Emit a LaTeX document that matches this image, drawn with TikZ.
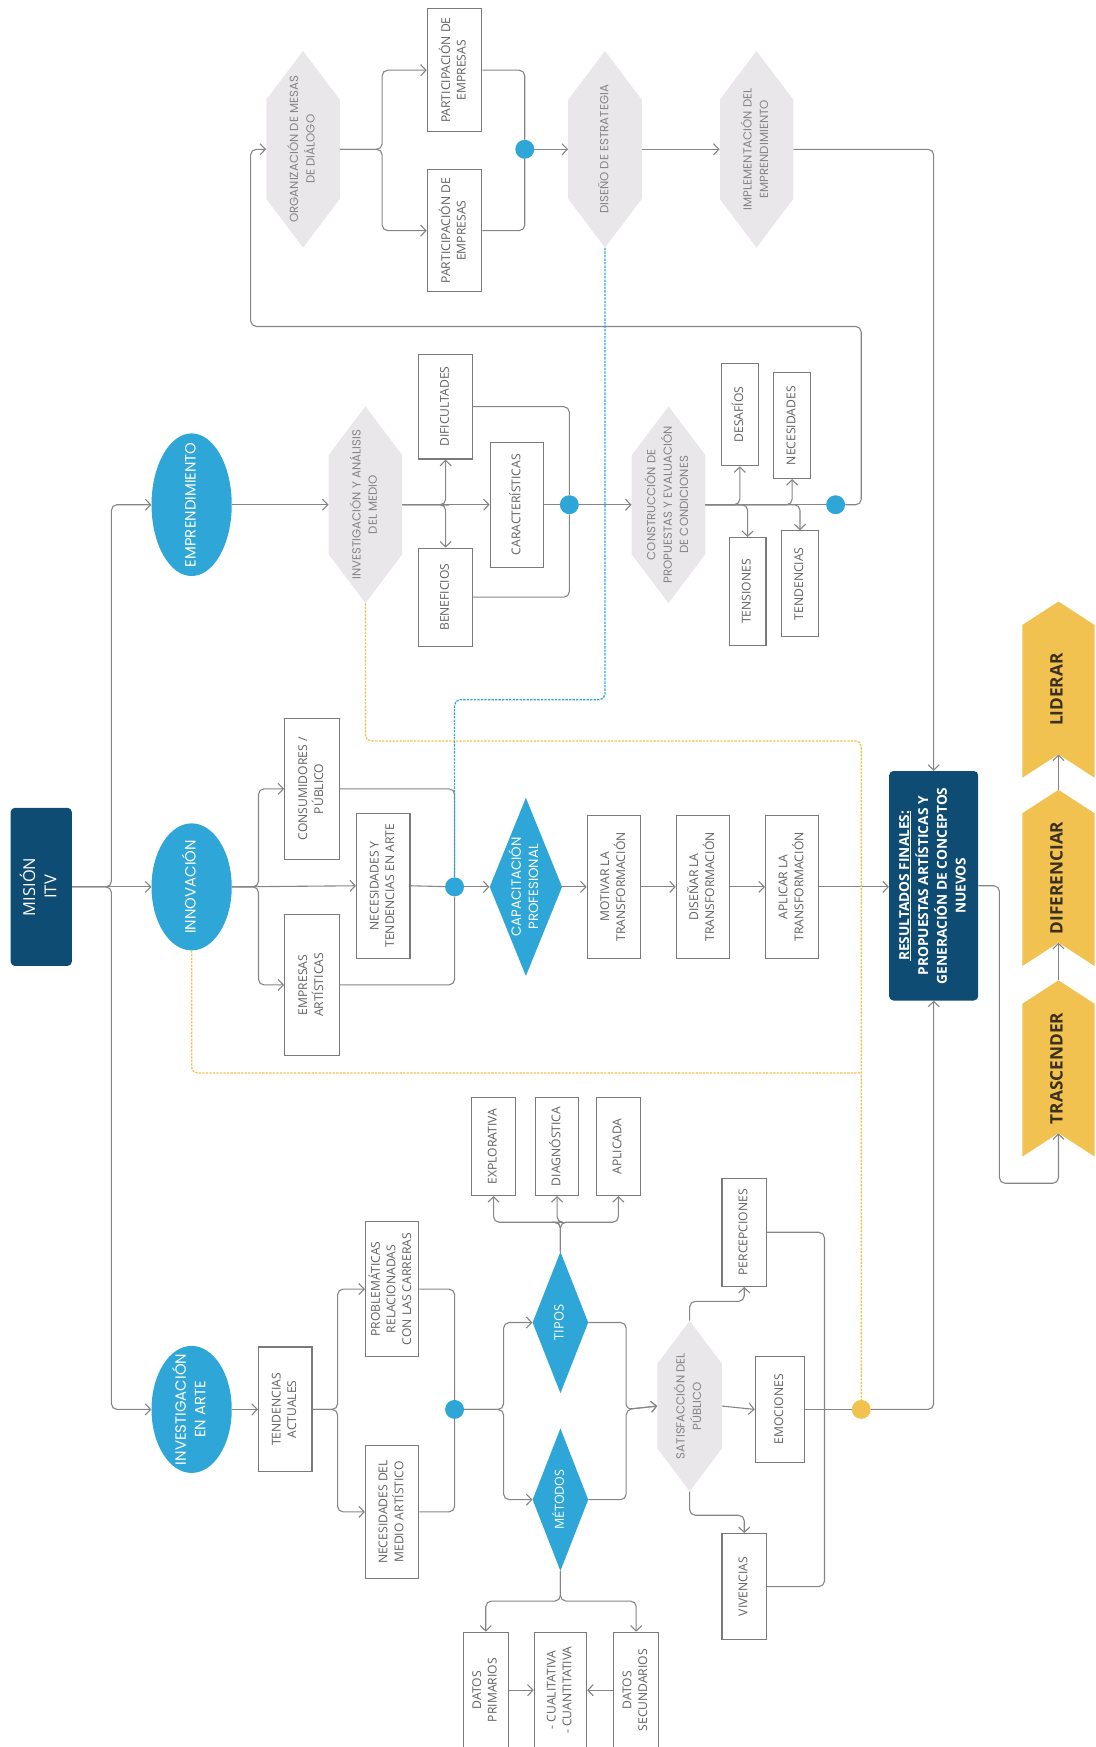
\documentclass[tikz,border=0pt]{standalone}
\usepackage{fontspec}
\setmainfont{Open Sans}
\newfontfamily\geofont{Poppins}
\usepackage{graphicx}
\usetikzlibrary{positioning,shapes.geometric,shapes.symbols,arrows.meta}

\definecolor{itvdark}{HTML}{0E4C73}
\definecolor{itvblue}{HTML}{2EA7D8}
\definecolor{itvyellow}{HTML}{F2C250}
\definecolor{hexgray}{HTML}{E9E7EA}
\definecolor{linegray}{HTML}{858585}
\definecolor{boxgray}{HTML}{7A7A7A}
\definecolor{boxtext}{HTML}{626262}
\definecolor{hextext}{HTML}{858585}
\definecolor{chevtext}{HTML}{3B2F1E}

% rotated, zero-size label: the shape size comes from the style only
\newcommand\vtext[1]{\makebox[0pt]{\raisebox{-.5\height}[0pt][0pt]{\rotatebox{90}{\begin{tabular}{@{}c@{}}#1\end{tabular}}}}}

\tikzset{%
  conn/.style={draw=linegray, line width=1.4pt, rounded corners=2.5mm},
  arr/.style={conn, -{Straight Barb[length=2.4mm,width=5mm]}},
  boxnode/.style={rectangle, draw=boxgray, line width=1.4pt, fill=white, text=boxtext, inner sep=0pt, font=\fontsize{15.5}{20}\selectfont},
  hexnode/.style={signal, signal to=north and south, signal pointer angle=74, fill=hexgray, text=hextext, inner sep=0pt, minimum width=33mm, minimum height=44.5mm, font=\geofont\fontsize{15}{21}\selectfont},
  ovalnode/.style={ellipse, fill=itvblue, text=white, inner sep=0pt, minimum width=36mm, minimum height=57mm, font=\geofont\fontsize{19}{25}\selectfont},
  rhombnode/.style={diamond, fill=itvblue, text=white, inner sep=0pt},
  darknode/.style={rectangle, rounded corners=2mm, fill=itvdark, text=white, inner sep=0pt},
  chevnode/.style={signal, signal to=north, signal from=south, signal pointer angle=114, fill=itvyellow, text=chevtext, inner sep=0pt, minimum width=32.5mm, minimum height=58mm, font=\bfseries\fontsize{22}{26}\selectfont},
  joint/.style={circle, fill=itvblue, inner sep=0pt, minimum size=8.5mm},
  yjoint/.style={joint, fill=itvyellow},
  bdash/.style={draw=itvblue, line width=1.6pt, dash pattern=on 3pt off 1.5pt, rounded corners=2.5mm},
  ydash/.style={draw=itvyellow, line width=1.6pt, dash pattern=on 3pt off 1.5pt, rounded corners=2.5mm}}

\begin{document}
\begin{tikzpicture}[x=0.5mm, y=-0.5mm]
    \useasboundingbox (0,0) rectangle (983,1568);

    % mission and the three lines of work
    \node[darknode, minimum width=27.5mm, minimum height=71mm, font=\fontsize{21}{27}\selectfont] (mision) at (37,796) {\vtext{MISIÓN\\ITV}};
    \node[ovalnode, minimum height=64mm] (empr) at (172,453) {\vtext{EMPRENDIMIENTO}};
    \node[ovalnode] (innov) at (172,796) {\vtext{INNOVACIÓN}};
    \node[ovalnode] (invarte) at (172,1265) {\vtext{INVESTIGACIÓN\\EN ARTE}};

    % emprendimiento
    \node[hexnode] (invmed) at (328,453) {\vtext{INVESTIGACIÓN Y ANÁLISIS\\DEL MEDIO}};
    \node[boxnode, minimum width=24mm, minimum height=47mm] (dific) at (400,365) {\vtext{DIFICULTADES}};
    \node[boxnode, minimum width=24mm, minimum height=44mm] (benef) at (400,536) {\vtext{BENEFICIOS}};
    \node[boxnode, minimum width=24mm, minimum height=56mm] (caract) at (464,453) {\vtext{CARACTERÍSTICAS}};
    \node[joint] (dotemp) at (511,453) {};
    \node[hexnode] (constr) at (600,453) {\vtext{CONSTRUCCIÓN DE\\PROPUESTAS Y EVALUACIÓN\\DE CONDICIONES}};
    \node[boxnode, minimum width=16.5mm, minimum height=46mm] (desaf) at (664,372) {\vtext{DESAFÍOS}};
    \node[boxnode, minimum width=16.5mm, minimum height=47.5mm] (neces) at (711,382) {\vtext{NECESIDADES}};
    \node[boxnode, minimum width=16.5mm, minimum height=48.5mm] (tensi) at (671,531) {\vtext{TENSIONES}};
    \node[boxnode, minimum width=16.5mm, minimum height=47.5mm] (tende) at (718,524) {\vtext{TENDENCIAS}};
    \node[joint] (dotcons) at (750,453) {};

    \node[hexnode] (org) at (272,134) {\vtext{ORGANIZACIÓN DE MESAS\\DE DIÁLOGO}};
    \node[boxnode, minimum width=24.5mm, minimum height=55mm] (part1) at (408,63) {\vtext{PARTICIPACIÓN DE\\EMPRESAS}};
    \node[boxnode, minimum width=24.5mm, minimum height=55mm] (part2) at (408,207) {\vtext{PARTICIPACIÓN DE\\EMPRESAS}};
    \node[joint] (dotorg) at (471,134) {};
    \node[hexnode] (disen) at (543,134) {\vtext{DISEÑO DE ESTRATEGIA}};
    \node[hexnode] (impl) at (679,134) {\vtext{IMPLEMENTACIÓN DEL\\EMPRENDIMIENTO}};

    % innovacion
    \node[boxnode, minimum width=24.5mm, minimum height=63.5mm] (consum) at (280,708) {\vtext{CONSUMIDORES /\\PÚBLICO}};
    \node[boxnode, minimum width=24mm, minimum height=65mm] (nectend) at (344,795) {\vtext{NECESIDADES Y\\TENDENCIAS EN ARTE}};
    \node[boxnode, minimum width=24.5mm, minimum height=63.5mm] (empart) at (280,884) {\vtext{EMPRESAS\\ARTÍSTICAS}};
    \node[joint] (dotinnov) at (408,796) {};
    \node[rhombnode, minimum width=32.5mm, minimum height=80mm, font=\geofont\fontsize{17}{22}\selectfont] (capac) at (472,796) {\vtext{CAPACITACIÓN\\PROFESIONAL}};
    \node[boxnode, minimum width=24mm, minimum height=64mm] (motivar) at (551,796) {\vtext{MOTIVAR LA\\TRANSFORMACIÓN}};
    \node[boxnode, minimum width=24mm, minimum height=64mm] (disenar) at (631,796) {\vtext{DISEÑAR LA\\TRANSFORMACIÓN}};
    \node[boxnode, minimum width=24mm, minimum height=64mm] (aplicar) at (711,796) {\vtext{APLICAR LA\\TRANSFORMACIÓN}};

    % investigacion en arte
    \node[boxnode, minimum width=24mm, minimum height=56mm] (tendact) at (256,1265) {\vtext{TENDENCIAS\\ACTUALES}};
    \node[boxnode, minimum width=24mm, minimum height=60.5mm] (problem) at (352,1157) {\vtext{PROBLEMÁTICAS\\RELACIONADAS\\CON LAS CARRERAS}};
    \node[boxnode, minimum width=24mm, minimum height=60mm] (necmed) at (352,1357) {\vtext{NECESIDADES DEL\\MEDIO ARTÍSTICO}};
    \node[joint] (dotinv) at (408,1265) {};
    \node[rhombnode, minimum width=25mm, minimum height=63.5mm, font=\fontsize{16.5}{20}\selectfont] (tipos) at (503,1187) {\vtext{TIPOS}};
    \node[rhombnode, minimum width=25mm, minimum height=64mm, font=\fontsize{16}{20}\selectfont] (metodos) at (503,1346) {\vtext{MÉTODOS}};
    \node[boxnode, minimum width=19.5mm, minimum height=44mm] (explor) at (443,1029) {\vtext{EXPLORATIVA}};
    \node[boxnode, minimum width=19.5mm, minimum height=44mm] (diagn) at (500,1029) {\vtext{DIAGNÓSTICA}};
    \node[boxnode, minimum width=19.5mm, minimum height=44mm] (aplic) at (555,1029) {\vtext{APLICADA}};
    \node[boxnode, minimum width=20mm, minimum height=52mm] (datprim) at (436,1517) {\vtext{DATOS\\PRIMARIOS}};
    \node[boxnode, minimum width=23.5mm, minimum height=52mm] (cualit) at (503,1517) {\vtext{- CUALITATIVA\\- CUANTITATIVA}};
    \node[boxnode, minimum width=20mm, minimum height=52mm] (datsec) at (571,1517) {\vtext{DATOS\\SECUNDARIOS}};
    \node[hexnode, minimum width=29mm, minimum height=38mm] (sat) at (619,1262) {\vtext{SATISFACCIÓN DEL\\PÚBLICO}};
    \node[boxnode, minimum width=20mm, minimum height=48.5mm] (percep) at (668,1106) {\vtext{PERCEPCIONES}};
    \node[boxnode, minimum width=22mm, minimum height=47.5mm] (emoc) at (700,1265) {\vtext{EMOCIONES}};
    \node[boxnode, minimum width=20mm, minimum height=47.5mm] (vivenc) at (668,1424) {\vtext{VIVENCIAS}};
    \node[yjoint] (ydot) at (773,1265) {};

    % results and the three steps
    \node[darknode, minimum width=40mm, minimum height=103mm, font=\bfseries\fontsize{17.5}{24}\selectfont] (result) at (838,795) {\vtext{\underline{RESULTADOS FINALES:}\\PROPUESTAS ARTÍSTICAS Y\\GENERACIÓN DE CONCEPTOS\\NUEVOS}};
    \node[chevnode] (lider) at (950,619) {\vtext{LIDERAR}};
    \node[chevnode] (difer) at (950,788) {\vtext{DIFERENCIAR}};
    \node[chevnode] (trasc) at (950,959) {\vtext{TRASCENDER}};

    % bend points
    \coordinate (jmain) at (100,796);
    \coordinate (jinnov) at (232,796);
    \coordinate (jemp) at (398,453);
    \coordinate (jorg) at (343,134);
    \coordinate (loopr) at (773,293);
    \coordinate (loopl) at (225,293);
    \coordinate (jtend) at (303,1265);
    \coordinate (jdot) at (452,1265);
    \coordinate (jtipos) at (503,1097);
    \coordinate (jmet) at (503,1437);
    \coordinate (jsat) at (562,1265);
    \coordinate (jperc) at (619,1168);
    \coordinate (jviv) at (619,1360);
    \coordinate (jemo) at (740,1265);
    \coordinate (jres) at (897,1062);
    \coordinate (ytop) at (773,665);
    \coordinate (ymid) at (773,963);
    \coordinate (bturn) at (543,628);

    % connectors
    \draw[arr] (mision.east) -- (innov.west);
    \draw[arr] (mision.east) -- (jmain) |- (empr.west);
    \draw[arr] (mision.east) -- (jmain) |- (invarte.west);

    \draw[arr] (empr.east) -- (invmed.west);
    \draw[arr] (invmed.east) -- (caract.west);
    \draw[arr] (invmed.east) -- (jemp) -| (dific.south);
    \draw[arr] (invmed.east) -- (jemp) -| (benef.north);
    \draw[conn] (dific.east) -| (dotemp);
    \draw[conn] (benef.east) -| (dotemp);
    \draw[conn] (caract.east) -- (dotemp);
    \draw[arr] (dotemp) -- (constr.west);
    \draw[conn] (constr.east) -- (dotcons);
    \draw[arr] (constr.east) -| (desaf.south);
    \draw[arr] (constr.east) -| (tensi.north);
    \draw[arr] (constr.east) -| (neces.south);
    \draw[arr] (constr.east) -| (tende.north);
    \draw[arr] (dotcons) -| (loopr) -- (loopl) |- (org.west);

    \draw[arr] (org.east) -- (jorg) |- (part1.west);
    \draw[arr] (org.east) -- (jorg) |- (part2.west);
    \draw[conn] (part1.east) -| (dotorg);
    \draw[conn] (part2.east) -| (dotorg);
    \draw[arr] (dotorg) -- (disen.west);
    \draw[arr] (disen.east) -- (impl.west);
    \draw[arr] (impl.east) -| (result.north);

    \draw[arr] (innov.east) -- (nectend.west);
    \draw[arr] (innov.east) -- (jinnov) |- (consum.west);
    \draw[arr] (innov.east) -- (jinnov) |- (empart.west);
    \draw[conn] (consum.east) -| (dotinnov);
    \draw[conn] (empart.east) -| (dotinnov);
    \draw[conn] (nectend.east) -- (dotinnov);
    \draw[arr] (dotinnov) -- (capac.west);
    \draw[arr] (capac.east) -- (motivar.west);
    \draw[arr] (motivar.east) -- (disenar.west);
    \draw[arr] (disenar.east) -- (aplicar.west);
    \draw[arr] (aplicar.east) -- (aplicar.east -| result.west);

    \draw[arr] (invarte.east) -- (tendact.west);
    \draw[arr] (tendact.east) -- (jtend) |- (problem.west);
    \draw[arr] (tendact.east) -- (jtend) |- (necmed.west);
    \draw[conn] (problem.east) -| (dotinv);
    \draw[conn] (necmed.east) -| (dotinv);
    \draw[arr] (dotinv) -- (jdot) |- (tipos.west);
    \draw[arr] (dotinv) -- (jdot) |- (metodos.west);
    \draw[arr] (tipos.north) -- (jtipos) -| (explor.south);
    \draw[arr] (tipos.north) -- (jtipos) -| (diagn.south);
    \draw[arr] (tipos.north) -- (jtipos) -| (aplic.south);
    \draw[arr] (metodos.south) -- (jmet) -| (datprim.north);
    \draw[arr] (metodos.south) -- (jmet) -| (datsec.north);
    \draw[arr] (datprim.east) -- (cualit.west);
    \draw[arr] (datsec.west) -- (cualit.east);
    \draw[arr] (tipos.east) -| (jsat) -- (sat.west);
    \draw[arr] (metodos.east) -| (jsat) -- (sat.west);
    \draw[arr] (sat.north) -- (jperc) -| (percep.south);
    \draw[arr] (sat.south) -- (jviv) -| (vivenc.north);
    \draw[arr] (sat.east) -- (emoc.west);
    \draw[conn] (percep.east) -| (jemo);
    \draw[conn] (vivenc.east) -| (jemo);
    \draw[conn] (emoc.east) -- (ydot);
    \draw[arr] (ydot) -| (result.south);

    \draw[arr] (result.east) -| (jres) -| (trasc.south);
    \draw[arr] (trasc.north) -- (difer.south);
    \draw[arr] (difer.north) -- (lider.south);

    % dashed links
    \draw[ydash] (invmed.south) |- (ytop) -- (ydot);
    \draw[ydash] (innov.south) |- (ymid);
    \draw[bdash] (disen.south) -- (bturn) -| (dotinnov);
\end{tikzpicture}
\end{document}
